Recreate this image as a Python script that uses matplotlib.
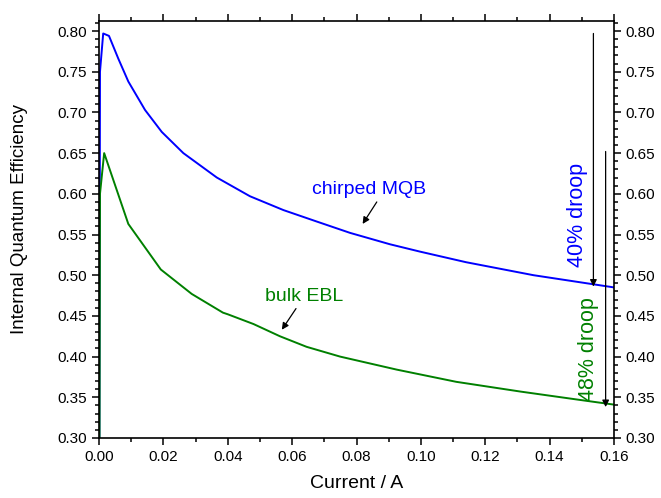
import matplotlib
matplotlib.use("Agg")
import matplotlib.pyplot as plt
from matplotlib.ticker import MultipleLocator

plt.rcParams['font.family'] = ['Liberation Sans', 'DejaVu Sans']

# chirped MQB (blue)
mqb_current = [0.0, 0.0003, 0.0013, 0.0031, 0.006, 0.0091, 0.0143, 0.0195, 0.0262,
               0.0366, 0.0469, 0.0573, 0.0676, 0.078, 0.0904, 0.0997, 0.114,
               0.135, 0.160]
mqb_iqe = [0.0, 0.75, 0.797, 0.794, 0.766, 0.738, 0.703, 0.676, 0.650,
           0.620, 0.597, 0.580, 0.566, 0.552, 0.538, 0.529, 0.516,
           0.500, 0.485]

# bulk EBL (green)
ebl_current = [0.0, 0.0003, 0.0016, 0.0091, 0.0192, 0.0288, 0.0385, 0.040, 0.048,
               0.0562, 0.0645, 0.0749, 0.0925, 0.111, 0.131, 0.149, 0.160]
ebl_iqe = [0.0, 0.60, 0.650, 0.563, 0.507, 0.477, 0.454, 0.452, 0.440,
           0.425, 0.412, 0.400, 0.384, 0.369, 0.357, 0.347, 0.341]

xticks = [0.00, 0.02, 0.04, 0.06, 0.08, 0.10, 0.12, 0.14, 0.16]
yticks = [0.30, 0.35, 0.40, 0.45, 0.50, 0.55, 0.60, 0.65, 0.70, 0.75, 0.80]

blue = '#0000ff'
green = '#008000'

fig = plt.figure(figsize=(6.61, 4.98), dpi=100)
ax = fig.add_axes([0.1498, 0.1205, 0.7791, 0.8373])

ax.plot(mqb_current, mqb_iqe, color=blue, lw=1.4)
ax.plot(ebl_current, ebl_iqe, color=green, lw=1.4)

ax.set_xlim(0.0, 0.16)
ax.set_ylim(0.30, 0.8123)
ax.set_xticks(xticks)
ax.set_yticks(yticks)
ax.set_xticklabels([f"{v:.2f}" for v in xticks])
ax.set_yticklabels([f"{v:.2f}" for v in yticks])
ax.xaxis.set_minor_locator(MultipleLocator(0.01))
ax.yaxis.set_minor_locator(MultipleLocator(0.01))
ax.tick_params(which='both', direction='out', top=True, right=True,
               labelright=True, labelsize=11, width=1.1)
ax.tick_params(which='major', length=5)
ax.tick_params(which='minor', length=3)
for s in ax.spines.values():
    s.set_linewidth(1.2)

ax.set_xlabel('Current / A', fontsize=14, labelpad=8)
fig.text(20 / 661, 1 - 219 / 498, 'Internal Quantum Efficiency', fontsize=13.5,
         rotation=90, ha='center', va='center')

arrow_kw = dict(arrowstyle='-|>', color='black', lw=0.9,
                mutation_scale=10, shrinkA=0, shrinkB=0)

# annotations
ax.text(0.0839, 0.6047, 'chirped MQB', color=blue, fontsize=14,
        ha='center', va='center')
ax.annotate('', xy=(0.0819, 0.563), xytext=(0.0863, 0.590), arrowprops=arrow_kw)
ax.text(0.0637, 0.474, 'bulk EBL', color=green, fontsize=14,
        ha='center', va='center')
ax.annotate('', xy=(0.0568, 0.433), xytext=(0.0612, 0.459), arrowprops=arrow_kw)

# droop arrows
ax.annotate('', xy=(0.1536, 0.486), xytext=(0.1536, 0.797), arrowprops=arrow_kw)
ax.annotate('', xy=(0.1574, 0.338), xytext=(0.1574, 0.652), arrowprops=arrow_kw)
ax.text(0.1488, 0.574, '40% droop', color=blue, fontsize=15.5, rotation=90,
        ha='center', va='center')
ax.text(0.1522, 0.409, '48% droop', color=green, fontsize=15.5, rotation=90,
        ha='center', va='center')

fig.savefig('out.png', dpi=100)
